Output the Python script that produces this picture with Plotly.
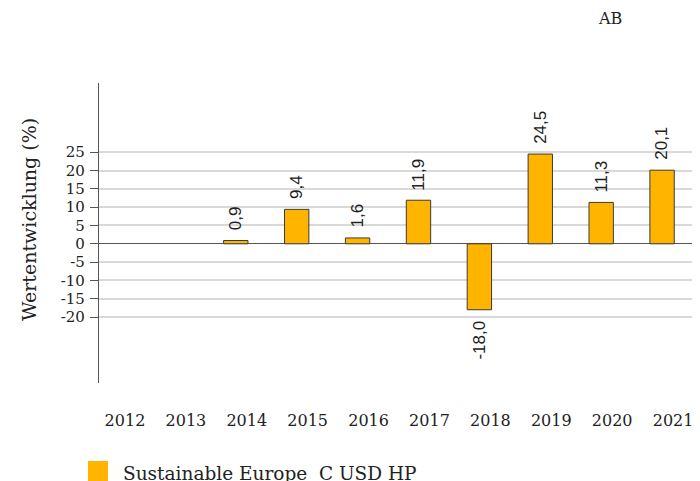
import plotly.graph_objects as go

years = ["2012", "2013", "2014", "2015", "2016", "2017", "2018", "2019", "2020", "2021"]
values = [None, None, 0.9, 9.4, 1.6, 11.9, -18.0, 24.5, 11.3, 20.1]
y_ticks = [-20, -15, -10, -5, 0, 5, 10, 15, 20, 25]
series_name = "Sustainable Europe\u00a0\u00a0C USD HP"
y_title = "Wertentwicklung (%)"

xpos = list(range(len(years)))

fig = go.Figure()
fig.add_trace(go.Bar(
    x=xpos, y=values, width=0.4,
    marker=dict(color="#FFB400", line=dict(color="#3a3a3a", width=1)),
    showlegend=False,
))

# value labels, rotated, just beyond each bar end
for xi, v in zip(xpos, values):
    if v is None:
        continue
    fig.add_annotation(
        x=xi, y=v, xref="x", yref="y", showarrow=False, textangle=-90,
        text=f"{v:.1f}".replace(".", ","),
        yanchor="bottom" if v >= 0 else "top", xanchor="center",
        yshift=8 if v >= 0 else -9,
        font=dict(family="Liberation Sans", size=17, color="#222"),
    )

serif = "DejaVu Serif"
# HTML body adds an 8px offset, so the page is shifted by (8, 8)
fig.update_layout(
    width=700, height=481,
    margin=dict(l=91, r=0, t=75, b=106),
    plot_bgcolor="white", paper_bgcolor="white",
    font=dict(family=serif, size=15, color="#222"),
    xaxis=dict(
        range=[-0.246, 9.754], tickvals=xpos, ticktext=years,
        showgrid=False, zeroline=False, showline=False, ticks="",
        ticklabelshift=11, ticklabelstandoff=26,
        tickfont=dict(family=serif, size=16, color="#222"),
    ),
    yaxis=dict(
        range=[-38, 43.9], tickvals=y_ticks, ticktext=[str(t) for t in y_ticks],
        showgrid=True, gridcolor="#d9d9d9", gridwidth=1.5,
        zeroline=True, zerolinecolor="#555", zerolinewidth=1.2,
        showline=True, linecolor="#555", linewidth=1.2,
        ticks="outside", ticklen=8, tickcolor="#555",
        ticklabelstandoff=2,
        tickfont=dict(family=serif, size=15, color="#222"),
    ),
    showlegend=False,
)

# y-axis title
fig.add_annotation(xref="paper", yref="paper", x=(29 - 99) / 609, y=(383 - 220) / 300,
                   xanchor="center", yanchor="middle", showarrow=False, textangle=-90,
                   text=y_title, font=dict(family=serif, size=19, color="#222"))

# legend (square + label)
fig.add_shape(type="rect", xref="paper", yref="paper",
              x0=(88 - 99) / 609, x1=(108 - 99) / 609,
              y0=(383 - 482) / 300, y1=(383 - 461) / 300,
              fillcolor="#FFB400", line=dict(width=0))
fig.add_annotation(xref="paper", yref="paper", x=(121 - 99) / 609, y=(383 - 473) / 300,
                   xanchor="left", yanchor="middle", showarrow=False,
                   text=series_name, font=dict(family=serif, size=18.5, color="#222"))
fig.add_annotation(xref="paper", yref="paper", x=(610 - 99) / 609, y=(383 - 18) / 300,
                   xanchor="center", yanchor="middle", showarrow=False,
                   text="AB", font=dict(family=serif, size=16, color="#222"))

fig.write_html("out.html")
